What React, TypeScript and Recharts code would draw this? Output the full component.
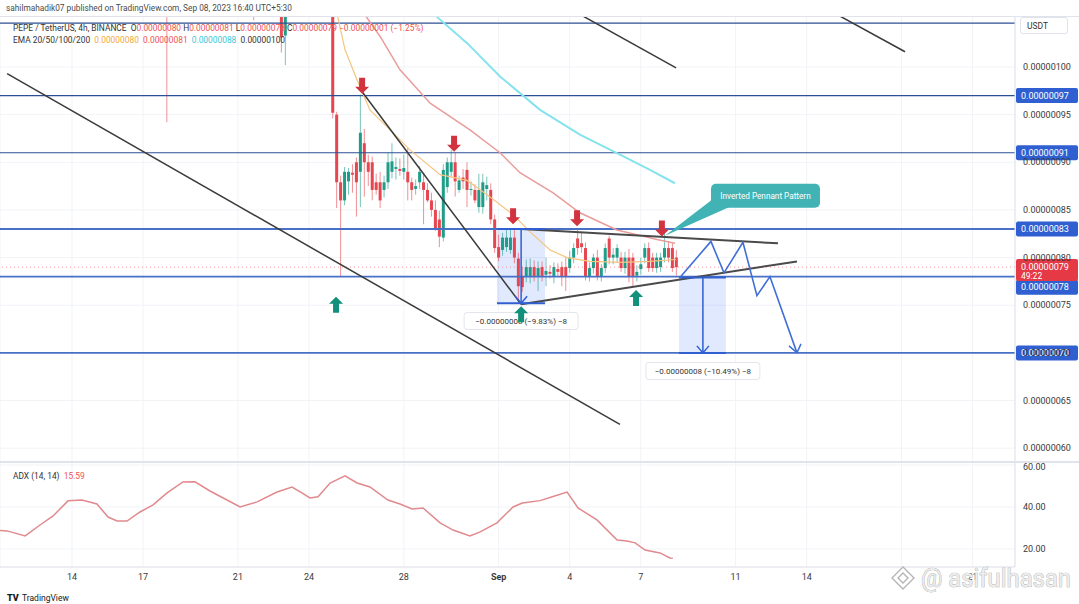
import React from 'react';
import {
	Bar,
	CartesianGrid,
	ComposedChart,
	Line,
	ReferenceArea,
	ReferenceDot,
	ReferenceLine,
	XAxis,
	YAxis,
} from 'recharts';

// prices are in units of 1e-8 USDT (80 = 0.00000080), time is the day of August (32 = Sep 1)
const barStart = 25; // Aug 25 00:00, one row per 4h bar: [bar, open, high, low, close]
const candleRows: [number, number, number, number, number][] = [
	[-42, 112, 113, 94.2, 110.5],
	[-20, 107, 107.5, 104.9, 106],
	[-13, 107.5, 108.5, 101.5, 103.1],
	[-12, 103.3, 106.5, 100.2, 106.2],
	[0, 106, 107, 94.6, 95.2],
	[1, 95.0, 95.3, 85.2, 87.9],
	[2, 87.9, 88.6, 78.0, 86.0],
	[3, 86.0, 89.5, 85.5, 89.0],
	[4, 88.0, 89.4, 86.6, 89.0],
	[5, 88.9, 89.8, 86.8, 88.7],
	[6, 90.0, 90.5, 84.3, 87.9],
	[7, 89.0, 97.1, 85.3, 93.1],
	[8, 92.0, 93.5, 86.4, 90.0],
	[9, 90.0, 90.8, 87.5, 89.0],
	[10, 90.0, 90.6, 86.0, 87.1],
	[11, 87.9, 88.8, 86.6, 87.1],
	[12, 87.9, 89.0, 85.2, 86.0],
	[13, 87.1, 88.6, 86.3, 87.9],
	[14, 87.9, 91.0, 87.2, 90.0],
	[15, 89.0, 92.0, 88.3, 90.1],
	[16, 89.3, 90.5, 88.2, 89.5],
	[17, 89.3, 90.4, 88.6, 89.1],
	[18, 89.0, 90.8, 88.2, 89.4],
	[19, 89.0, 91.5, 86.0, 87.9],
	[20, 87.9, 88.4, 86.0, 87.1],
	[21, 87.2, 88.2, 86.6, 87.5],
	[22, 87.9, 89.6, 87.2, 89.0],
	[23, 87.9, 88.9, 83.5, 87.1],
	[24, 87.1, 87.8, 85.8, 86.0],
	[25, 86.0, 86.8, 84.3, 85.0],
	[26, 85.0, 86.0, 82.8, 83.1],
	[27, 84.0, 84.9, 81.1, 82.2],
	[28, 82.1, 89.8, 81.7, 89.2],
	[29, 87.4, 90.5, 86.8, 90.0],
	[30, 89.0, 91.3, 88.5, 90.0],
	[31, 90.0, 91.0, 86.4, 88.0],
	[32, 87.1, 88.6, 86.8, 88.1],
	[33, 88.4, 89.3, 87.2, 88.0],
	[34, 89.2, 90.0, 85.3, 87.1],
	[35, 87.1, 88.0, 86.5, 87.2],
	[36, 87.1, 87.7, 85.7, 86.0],
	[37, 85.3, 88.8, 84.7, 87.1],
	[38, 85.3, 88.8, 84.6, 87.9],
	[39, 87.2, 88.5, 86.0, 87.6],
	[40, 87.1, 87.8, 83.5, 84.0],
	[41, 84.0, 84.5, 80.5, 81.0],
	[42, 81.1, 82.4, 79.6, 80.0],
	[43, 80.8, 82.6, 80.2, 82.1],
	[44, 81.1, 82.9, 80.6, 82.1],
	[45, 80.8, 83.0, 80.4, 82.1],
	[46, 82.1, 83.0, 79.4, 80.0],
	[47, 79.9, 80.5, 75.2, 77.0],
	[48, 78.0, 79.0, 76.4, 76.9],
	[49, 78.0, 79.8, 77.4, 79.0],
	[50, 78.0, 79.9, 77.3, 79.0],
	[51, 79.0, 79.7, 77.5, 78.0],
	[52, 78.0, 79.6, 76.5, 78.9],
	[53, 79.0, 79.6, 77.5, 78.0],
	[54, 78.2, 80.0, 77.0, 78.6],
	[55, 78.5, 79.2, 77.8, 78.3],
	[56, 78.0, 79.5, 77.3, 79.0],
	[57, 78.8, 79.4, 78.0, 78.5],
	[58, 79.0, 79.6, 77.0, 78.0],
	[59, 79.0, 80.0, 76.5, 78.0],
	[60, 78.9, 80.7, 78.4, 80.0],
	[61, 80.0, 81.5, 79.4, 81.0],
	[62, 82.0, 83.0, 80.3, 81.0],
	[63, 81.5, 82.7, 80.5, 81.1],
	[64, 81.0, 81.6, 77.6, 78.0],
	[65, 78.0, 79.5, 77.5, 78.9],
	[66, 78.9, 80.4, 78.3, 80.0],
	[67, 80.0, 80.8, 77.6, 78.0],
	[68, 78.0, 79.3, 77.5, 78.9],
	[69, 78.9, 81.5, 78.4, 81.0],
	[70, 82.0, 82.3, 79.3, 80.0],
	[71, 80.0, 81.0, 79.3, 80.3],
	[72, 80.0, 81.4, 79.5, 81.0],
	[73, 80.0, 80.6, 78.5, 78.9],
	[74, 78.9, 80.6, 78.3, 80.0],
	[75, 80.0, 80.9, 77.4, 78.0],
	[76, 80.0, 80.5, 76.9, 78.0],
	[77, 78.1, 79.2, 77.5, 78.5],
	[78, 78.8, 80.0, 78.2, 79.3],
	[79, 80.0, 81.5, 79.4, 81.0],
	[80, 81.0, 81.6, 78.5, 78.9],
	[81, 80.0, 80.5, 78.5, 78.9],
	[82, 78.9, 80.5, 78.4, 80.0],
	[83, 79.0, 80.5, 78.5, 80.0],
	[84, 80.0, 82.7, 79.5, 81.0],
	[85, 81.0, 81.7, 79.5, 80.0],
	[86, 81.0, 81.5, 78.5, 78.9],
	[87, 80.0, 80.8, 78.1, 79.0],
];

const ema20: [number, number][] = [
	[25.1, 106.5], [25.52, 101.8], [26.03, 98.6], [26.57, 95.5], [27.42, 93.4], [28.26, 91.3],
	[29.53, 88.7], [30.67, 88.1], [31.51, 86.6], [32.61, 84.5], [33.33, 82.7], [34.17, 80.8],
	[34.89, 80.0], [35.86, 79.6], [37.12, 79.5], [38.39, 79.6], [39.49, 79.8],
];
const ema50: [number, number][] = [
	[26.07, 106.5], [27.0, 103.2], [27.84, 99.7], [29.11, 96.2], [30.79, 93.4], [32.06, 91.0],
	[32.9, 88.9], [34.3, 86.8], [35.43, 84.7], [36.99, 82.9], [38.68, 81.9], [39.44, 81.5],
];
const ema100: [number, number][] = [
	[29.11, 106.5], [29.4, 105.25], [30.67, 102.5], [32.06, 99.0], [33.75, 95.5], [35.43, 92.9],
	[37.12, 90.8], [38.39, 89.2], [39.44, 87.8],
];
const adxRows: [number, number][] = [
	[10.96, 28.8], [11.26, 28.6], [12.02, 26.2], [12.65, 31.4], [13.2, 35.7], [13.83, 42.9],
	[14.42, 43.3], [15.05, 41.4], [15.52, 35.2], [15.9, 33.3], [16.32, 33.3], [16.87, 37.6],
	[17.42, 41.0], [18.01, 46.7], [18.68, 51.9], [19.19, 52.0], [19.82, 47.6], [20.54, 43.3],
	[21.09, 40.0], [21.81, 42.4], [22.65, 47.1], [23.28, 49.5], [23.7, 46.7], [24.04, 44.3],
	[24.38, 44.8], [24.89, 51.4], [25.52, 54.8], [26.03, 51.4], [26.57, 49.5], [27.33, 43.3],
	[27.84, 41.4], [28.35, 39.0], [28.81, 39.5], [29.53, 32.4], [30.08, 29.0], [30.79, 26.2],
	[31.22, 28.1], [31.93, 32.4], [32.61, 40.0], [33.0, 41.9], [33.75, 43.0], [34.3, 45.0],
	[34.89, 47.1], [35.35, 39.5], [36.15, 33.8], [37.0, 24.3], [37.42, 23.8], [37.76, 22.9],
	[38.18, 19.5], [38.81, 18.1], [39.23, 15.7], [39.35, 15.6],
];

const dayTicks = [14, 17, 21, 24, 28, 32, 35, 38, 42, 45, 49, 52];
const dayLabels = ['14', '17', '21', '24', '28', 'Sep', '4', '7', '11', '14', '18', '21'];
const priceTicks = [60, 65, 70, 75, 80, 85, 90, 95, 100];
const adxTicks = [20, 40, 60];
const thinLevels = [104.6, 97, 91];
const thickLevels = [83, 78, 70];
const taggedLevels = [97, 91, 83, 78, 70];
const lastPrice = 79;

// [t, price] of each arrow tip
const resistanceTips: [number, number][] = [
	[26.24, 97.2], [30.12, 91.1], [32.61, 83.5], [35.31, 83.3], [38.89, 82.2],
];
const supportTips: [number, number][] = [[25.14, 75.9], [32.95, 74.9], [37.8, 76.6]];

// [t1, p1, t2, p2]
const trendLines: [number, number, number, number][] = [
	[11.26, 99.3, 37.12, 62.5],
	[26.24, 97.4, 32.95, 75.1],
	[35.01, 106.1, 39.49, 99.9],
	[45.77, 106.2, 49.15, 101.6],
];
const pennantLines: [number, number, number, number][] = [
	[32.95, 83.0, 43.79, 81.5],
	[32.95, 75.1, 44.59, 79.6],
];
const projection: [number, number][] = [
	[39.65, 77.9], [40.96, 81.7], [41.51, 78.4], [42.31, 81.6], [42.9, 76.0], [43.45, 78.0], [44.59, 70.0],
];
// [t1, t2, arrow t, top, bottom]
const measureBoxes: [number, number, number, number, number][] = [
	[31.93, 33.96, 32.95, 83.0, 75.2],
	[39.61, 41.59, 40.62, 77.9, 70.0],
];
const measureTexts = ['−0.00000008 (−9.83%) −8', '−0.00000008 (−10.49%) −8'];
const measureTextAt: [number, number][] = [[32.95, 73.35], [40.62, 68.1]];
const calloutTip: [number, number] = [39.02, 82.3];

const X_DOMAIN: [number, number] = [10.96, 53.79];
const PRICE_DOMAIN: [number, number] = [58.55, 105.35];
const ADX_DOMAIN: [number, number] = [11.4, 61.4];

const UP = '#1f9d89';
const DOWN = '#e5464f';
const RED = '#ef5350';
const BLUE = '#2f5fd0';
const TEAL = '#41b3b5';
const FONT = "Roboto, 'Liberation Sans', sans-serif";

const fmt = (v: number) => (v / 1e8).toFixed(8);
const toPoints = (rows: [number, number][]) => rows.map(([t, v]) => ({ t, v }));
const candleData = candleRows.map(([i, o, h, l, c]) => ({ t: barStart + i / 6, o, h, l, c }));

const Candle = (props: any) => {
	const { x, y, width, height, payload } = props;
	if (x == null || !payload || !Number.isFinite(y)) return null;
	const { o, h, l, c } = payload;
	const top = Math.min(y, y + height);
	const hh = Math.abs(height);
	const cx = x + width / 2;
	const py = (v: number) => top + ((h - v) / (h - l || 1)) * hh;
	const color = c >= o ? UP : DOWN;
	const b1 = py(Math.max(o, c));
	const b2 = py(Math.min(o, c));
	return (
		<g>
			<line x1={cx} x2={cx} y1={top} y2={top + hh} stroke={color} strokeOpacity={0.6} />
			<rect x={cx - 1.5} y={b1} width={3} height={Math.max(1, b2 - b1)} fill={color} />
		</g>
	);
};

const ArrowMark = ({ cx, cy, up }: any) => {
	const k = up ? 1 : -1;
	const pts = [[0, 0], [-7, 7], [-3, 7], [-3, 16], [3, 16], [3, 7], [7, 7]]
		.map(([a, b]) => `${cx + a},${cy + b * k}`)
		.join(' ');
	return <polygon points={pts} fill={up ? '#12907c' : '#d2343f'} />;
};

const Vee = ({ cx, cy, arms, color }: any) => (
	<path
		d={`M${cx + arms[0]},${cy + arms[1]} L${cx},${cy} L${cx + arms[2]},${cy + arms[3]}`}
		stroke={color}
		strokeWidth={1.5}
		fill="none"
	/>
);

const PriceTag = ({ cx, cy, text, shift }: any) => (
	<g>
		<rect x={cx + 1} y={cy + shift - 7.5} width={62} height={15} rx={2} fill={BLUE} />
		<text x={cx + 6} y={cy + shift + 3.3} fill="#fff" fontSize={9}>
			{text}
		</text>
	</g>
);

const LastTag = ({ cx, cy }: any) => (
	<g>
		<rect x={cx + 1} y={cy - 8} width={62} height={22} rx={2} fill="#e63946" />
		<text x={cx + 6} y={cy + 3} fill="#fff" fontSize={9}>
			{fmt(lastPrice)}
		</text>
		<text x={cx + 6} y={cy + 12} fill="#fff" fontSize={8.5}>
			49:22
		</text>
	</g>
);

const Callout = ({ cx, cy }: any) => (
	<g>
		<polygon points={`${cx},${cy} ${cx + 47},${cy - 36} ${cx + 65},${cy - 29}`} fill={TEAL} />
		<rect x={cx + 46} y={cy - 52} width={109} height={24} rx={5} fill={TEAL} />
		<text x={cx + 100.5} y={cy - 37} textAnchor="middle" fill="#fff" fontSize={8.2}>
			Inverted Pennant Pattern
		</text>
	</g>
);

const MeasureLabel = ({ cx, cy, text }: any) => (
	<g>
		<rect x={cx - 57} y={cy - 8.5} width={114} height={17} rx={3} fill="#fff" stroke="#e2e5eb" />
		<text x={cx} y={cy + 3} textAnchor="middle" fontSize={8} fill="#333">
			{text}
		</text>
	</g>
);

const DayTick = (props: any) => {
	const { x, y, payload } = props;
	const label = dayLabels[dayTicks.indexOf(payload.value)] ?? '';
	return (
		<text x={x} y={y + 5} textAnchor="middle" fontSize={9} fill="#3a3a3a" fontWeight={label === 'Sep' ? 700 : 400}>
			{label}
		</text>
	);
};

const seg = ([t1, p1, t2, p2]: number[]) => [
	{ x: t1, y: p1 },
	{ x: t2, y: p2 },
];

const legendStyle: React.CSSProperties = {
	position: 'absolute',
	left: 13,
	fontSize: 8.4,
	lineHeight: '12px',
	color: '#333',
	whiteSpace: 'pre',
};

export default function App() {
	return (
		<div style={{ position: 'relative', width: 1079, height: 604, background: '#fff', overflow: 'hidden', fontFamily: FONT }}>
			<style>{'body{margin:0}'}</style>

			<div style={{ position: 'absolute', left: 0, top: 16 }}>
				<ComposedChart width={1079} height={446} data={candleData} margin={{ top: 0, right: 0, bottom: 0, left: 0 }}>
					<CartesianGrid stroke="#f1f3f7" />
					<XAxis hide type="number" dataKey="t" domain={X_DOMAIN} allowDataOverflow ticks={dayTicks} />
					<YAxis
						orientation="right"
						width={64}
						domain={PRICE_DOMAIN}
						allowDataOverflow
						ticks={priceTicks}
						tickFormatter={fmt}
						tick={{ fontSize: 9, fill: '#3a3a3a' }}
						tickLine={false}
						axisLine={{ stroke: '#e0e3eb' }}
					/>
					{thinLevels.map((v) => (
						<ReferenceLine key={`lv${v}`} y={v} stroke="#2c4f96" strokeWidth={1.2} />
					))}
					{thickLevels.map((v) => (
						<ReferenceLine key={`lk${v}`} y={v} stroke="#4870c6" strokeWidth={1.8} />
					))}
					<ReferenceLine y={lastPrice} stroke="#f23645" strokeOpacity={0.5} strokeDasharray="1 3" />
					{measureBoxes.map(([t1, t2, , top, bottom]) => (
						<ReferenceArea key={`mb${t1}`} x1={t1} x2={t2} y1={bottom} y2={top} fill="#2962ff" fillOpacity={0.14} stroke="none" />
					))}
					<Line data={toPoints(ema100)} dataKey="v" stroke="#86e3ee" strokeWidth={2} dot={false} isAnimationActive={false} />
					<Line data={toPoints(ema50)} dataKey="v" stroke="#e99c9c" strokeWidth={1.5} dot={false} isAnimationActive={false} />
					<Line data={toPoints(ema20)} dataKey="v" stroke="#f5c47f" strokeWidth={1.2} dot={false} isAnimationActive={false} />
					<Bar dataKey={(d: any) => [d.l, d.h]} barSize={3} shape={<Candle />} isAnimationActive={false} />
					{trendLines.map((l, i) => (
						<ReferenceLine key={`tl${i}`} segment={seg(l)} stroke="#3a3a3a" strokeWidth={1.5} ifOverflow="hidden" />
					))}
					{pennantLines.map((l, i) => (
						<ReferenceLine key={`pl${i}`} segment={seg(l)} stroke="#4a4a4a" strokeWidth={2} ifOverflow="hidden" />
					))}
					{measureBoxes.map(([t1, t2, ta, top, bottom], i) => (
						<React.Fragment key={`mm${i}`}>
							<ReferenceLine segment={seg([t1, top, t2, top])} stroke={BLUE} strokeWidth={2} />
							<ReferenceLine segment={seg([t1, bottom, t2, bottom])} stroke={BLUE} strokeWidth={2} />
							<ReferenceLine segment={seg([ta, top, ta, bottom])} stroke={BLUE} strokeWidth={1.5} />
							<ReferenceDot
								x={ta}
								y={bottom}
								ifOverflow="visible"
								shape={(p: any) => <Vee cx={p.cx} cy={p.cy} arms={[-6, -7, 6, -7]} color={BLUE} />}
							/>
						</React.Fragment>
					))}
					<Line
						data={toPoints(projection)}
						dataKey="v"
						stroke="#3f6fd6"
						strokeWidth={1.6}
						isAnimationActive={false}
						dot={(p: any) =>
							p.index === projection.length - 1 ? (
								<Vee key="pend" cx={p.cx} cy={p.cy} arms={[-8, -7, 4, -9]} color="#3f6fd6" />
							) : (
								<g key={`pd${p.index}`} />
							)
						}
					/>
					{measureTexts.map((txt, i) => (
						<ReferenceDot
							key={`mt${i}`}
							x={measureTextAt[i][0]}
							y={measureTextAt[i][1]}
							ifOverflow="visible"
							shape={(p: any) => <MeasureLabel cx={p.cx} cy={p.cy} text={txt} />}
						/>
					))}
					{resistanceTips.map(([t, v]) => (
						<ReferenceDot key={`ra${t}`} x={t} y={v} ifOverflow="visible" shape={(p: any) => <ArrowMark cx={p.cx} cy={p.cy} />} />
					))}
					{supportTips.map(([t, v]) => (
						<ReferenceDot key={`sa${t}`} x={t} y={v} ifOverflow="visible" shape={(p: any) => <ArrowMark cx={p.cx} cy={p.cy} up />} />
					))}
					<ReferenceDot x={calloutTip[0]} y={calloutTip[1]} ifOverflow="visible" shape={(p: any) => <Callout cx={p.cx} cy={p.cy} />} />
					{taggedLevels.map((v) => (
						<ReferenceDot
							key={`tg${v}`}
							x={X_DOMAIN[1]}
							y={v}
							ifOverflow="visible"
							shape={(p: any) => <PriceTag cx={p.cx} cy={p.cy} text={fmt(v)} shift={v === 78 ? 10.5 : 0} />}
						/>
					))}
					<ReferenceDot x={X_DOMAIN[1]} y={lastPrice} ifOverflow="visible" shape={(p: any) => <LastTag cx={p.cx} cy={p.cy} />} />
				</ComposedChart>
			</div>

			<div style={{ position: 'absolute', left: 0, top: 462 }}>
				<ComposedChart width={1079} height={128} data={toPoints(adxRows)} margin={{ top: 0, right: 0, bottom: 0, left: 0 }}>
					<CartesianGrid stroke="#f1f3f7" />
					<XAxis
						type="number"
						dataKey="t"
						domain={X_DOMAIN}
						allowDataOverflow
						ticks={dayTicks}
						interval={0}
						height={23}
						tick={<DayTick />}
						tickLine={false}
						axisLine={{ stroke: '#e0e3eb' }}
					/>
					<YAxis
						orientation="right"
						width={64}
						domain={ADX_DOMAIN}
						allowDataOverflow
						ticks={adxTicks}
						tickFormatter={(v: number) => v.toFixed(2)}
						tick={{ fontSize: 9, fill: '#3a3a3a' }}
						tickLine={false}
						axisLine={{ stroke: '#e0e3eb' }}
					/>
					<Line dataKey="v" stroke="#e08a8e" strokeWidth={1.5} dot={false} isAnimationActive={false} />
				</ComposedChart>
			</div>

			<div style={{ position: 'absolute', left: 0, top: 16, width: 1079, borderTop: '1px solid #e0e3eb' }} />
			<div style={{ position: 'absolute', left: 0, top: 461, width: 1079, borderTop: '2px solid #e0e3eb' }} />

			<div style={{ ...legendStyle, left: 6, top: 2, fontSize: 8.3, color: '#4a4a4a' }}>
				sahilmahadik07 published on TradingView.com, Sep 08, 2023 16:40 UTC+5:30
			</div>
			<div style={{ ...legendStyle, top: 22 }}>
				{'PEPE / TetherUS, 4h, BINANCE  O'}
				<span style={{ color: RED }}>0.00000080</span>
				{' H'}
				<span style={{ color: RED }}>0.00000081</span>
				{' L'}
				<span style={{ color: RED }}>0.00000078</span>
				{' C'}
				<span style={{ color: RED }}>0.00000079</span>
				<span style={{ color: RED }}>{' −0.00000001 (−1.25%)'}</span>
			</div>
			<div style={{ ...legendStyle, top: 33.5 }}>
				{'EMA 20/50/100/200  '}
				<span style={{ color: '#f2a93b' }}>0.00000080</span>
				{'  '}
				<span style={{ color: RED }}>0.00000081</span>
				{'  '}
				<span style={{ color: '#3cc8d8' }}>0.00000088</span>
				{'  0.00000100'}
			</div>
			<div style={{ ...legendStyle, top: 470 }}>
				{'ADX (14, 14)  '}
				<span style={{ color: RED }}>15.59</span>
			</div>
			<div
				style={{
					position: 'absolute',
					left: 1020,
					top: 17,
					width: 48,
					height: 17,
					border: '1px solid #e0e3eb',
					borderRadius: 3,
					background: '#fff',
					fontSize: 8.5,
					lineHeight: '17px',
					color: '#333',
					paddingLeft: 6,
					boxSizing: 'border-box',
				}}
			>
				USDT
			</div>

			<svg style={{ position: 'absolute', left: 0, top: 0 }} width={1079} height={604}>
				<g transform="translate(903,578)" fill="none" stroke="#b5b5b5" strokeWidth={1.4}>
					<path d="M0,-11 L11,0 L0,11 L-11,0 Z" fill="#fff" />
					<path d="M0,-5 L5,0 L0,5 L-5,0 Z" />
				</g>
				<text
					x={921}
					y={587}
					fontSize={25}
					textLength={150}
					lengthAdjust="spacingAndGlyphs"
					fill="#ececec"
					stroke="#a0a0a0"
					strokeWidth={0.7}
					style={{ paintOrder: 'stroke' }}
				>
					@ asifulhasan
				</text>
				<text x={7} y={601} fontSize={9} fontWeight={900} fill="#131722">
					TV
				</text>
				<text x={22} y={601} fontSize={8.5} fill="#131722">
					TradingView
				</text>
			</svg>
		</div>
	);
}
